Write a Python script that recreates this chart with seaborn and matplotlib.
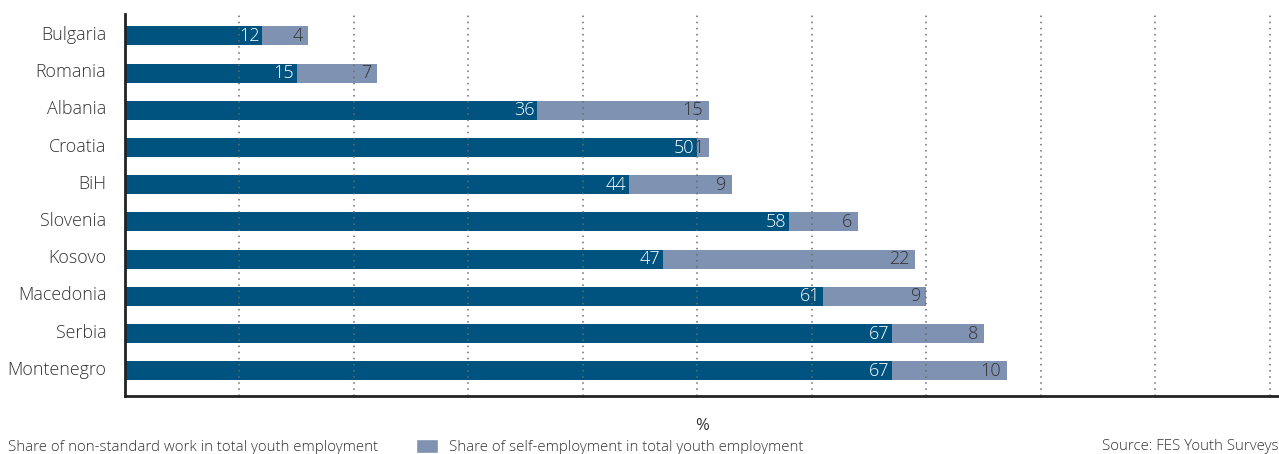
import matplotlib
matplotlib.use("Agg")
import matplotlib.pyplot as plt
import matplotlib.transforms as mtransforms
from matplotlib.patches import Patch
import seaborn as sns
import pandas as pd

countries = ["Bulgaria", "Romania", "Albania", "Croatia", "BiH", "Slovenia",
             "Kosovo", "Macedonia", "Serbia", "Montenegro"]
non_standard = [12, 15, 36, 50, 44, 58, 47, 61, 67, 67]
self_employment = [4, 7, 15, 1, 9, 6, 22, 9, 8, 10]

label_nonstd = "Share of non-standard work in total youth employment"
label_self = "Share of self-employment in total youth employment"
source_text = "Source: FES Youth Surveys"

DARK = "#00527f"
LIGHT = "#7f92b2"
TEXT = "#333333"

df = pd.DataFrame({
    "country": countries,
    "non_standard": non_standard,
    "self_employment": self_employment,
})
df["total"] = df["non_standard"] + df["self_employment"]

sns.set_theme(style="white")
plt.rcParams["font.family"] = ["Open Sans", "DejaVu Sans"]
plt.rcParams["font.weight"] = "light"

fig = plt.figure(figsize=(12.79, 4.54), dpi=100)
ax = fig.add_axes([125 / 1279, 1 - 396 / 454, 1 - 125 / 1279, (396 - 14) / 454])

sns.barplot(data=df, y="country", x="total", color=LIGHT, orient="h",
            width=0.51, saturation=1, linewidth=0, ax=ax)
sns.barplot(data=df, y="country", x="non_standard", color=DARK, orient="h",
            width=0.51, saturation=1, linewidth=0, ax=ax)

for i, row in df.iterrows():
    ax.annotate(str(row["non_standard"]), xy=(row["non_standard"], i),
                xytext=(-2, 0), textcoords="offset points",
                ha="right", va="center", color="white", fontsize=13, zorder=5)
    ax.annotate(str(row["self_employment"]), xy=(row["total"], i),
                xytext=(-4, 0), textcoords="offset points",
                ha="right", va="center", color=TEXT, fontsize=13, zorder=5)

ax.set_xlim(0, 100.8)
ax.set_ylim(9.68, -0.59)
ax.set_xticks(range(10, 101, 10))
ax.set_xticklabels([])
ax.grid(axis="x", linestyle=(0, (1, 3)), color="#6a6a6a", linewidth=1.1)
ax.grid(axis="y", visible=False)
ax.set_axisbelow(False)
for g in ax.get_xgridlines():
    g.set_zorder(3)

ax.set_ylabel("")
ax.set_xlabel("%", fontsize=12, color=TEXT, labelpad=12)
ax.tick_params(axis="both", length=0)
ax.tick_params(axis="y", pad=13.5, labelsize=12.9, labelcolor=TEXT)

# lift the country names slightly above the bar centres
lift = mtransforms.ScaledTranslation(0, 3 / 100, fig.dpi_scale_trans)
for lbl in ax.get_yticklabels():
    lbl.set_transform(lbl.get_transform() + lift)

for side in ["top", "right"]:
    ax.spines[side].set_visible(False)
for side in ["left", "bottom"]:
    ax.spines[side].set_color("#222222")
    ax.spines[side].set_linewidth(2)
    ax.spines[side].set_zorder(4)

handles = [Patch(facecolor=DARK, label=label_nonstd),
           Patch(facecolor=LIGHT, label=label_self)]
fig.legend(handles=handles, loc="center left", bbox_to_anchor=(-25 / 1279, 1 - 447 / 454),
           ncol=2, frameon=False, fontsize=10.85, labelcolor=TEXT,
           handlelength=1.5, handleheight=1.0, handletextpad=0.7,
           columnspacing=2.5, borderaxespad=0, borderpad=0)

fig.text(1.0, 1 - 447 / 454, source_text, ha="right", va="center",
         fontsize=10.85, color=TEXT)

fig.savefig("out.png", dpi=100)
